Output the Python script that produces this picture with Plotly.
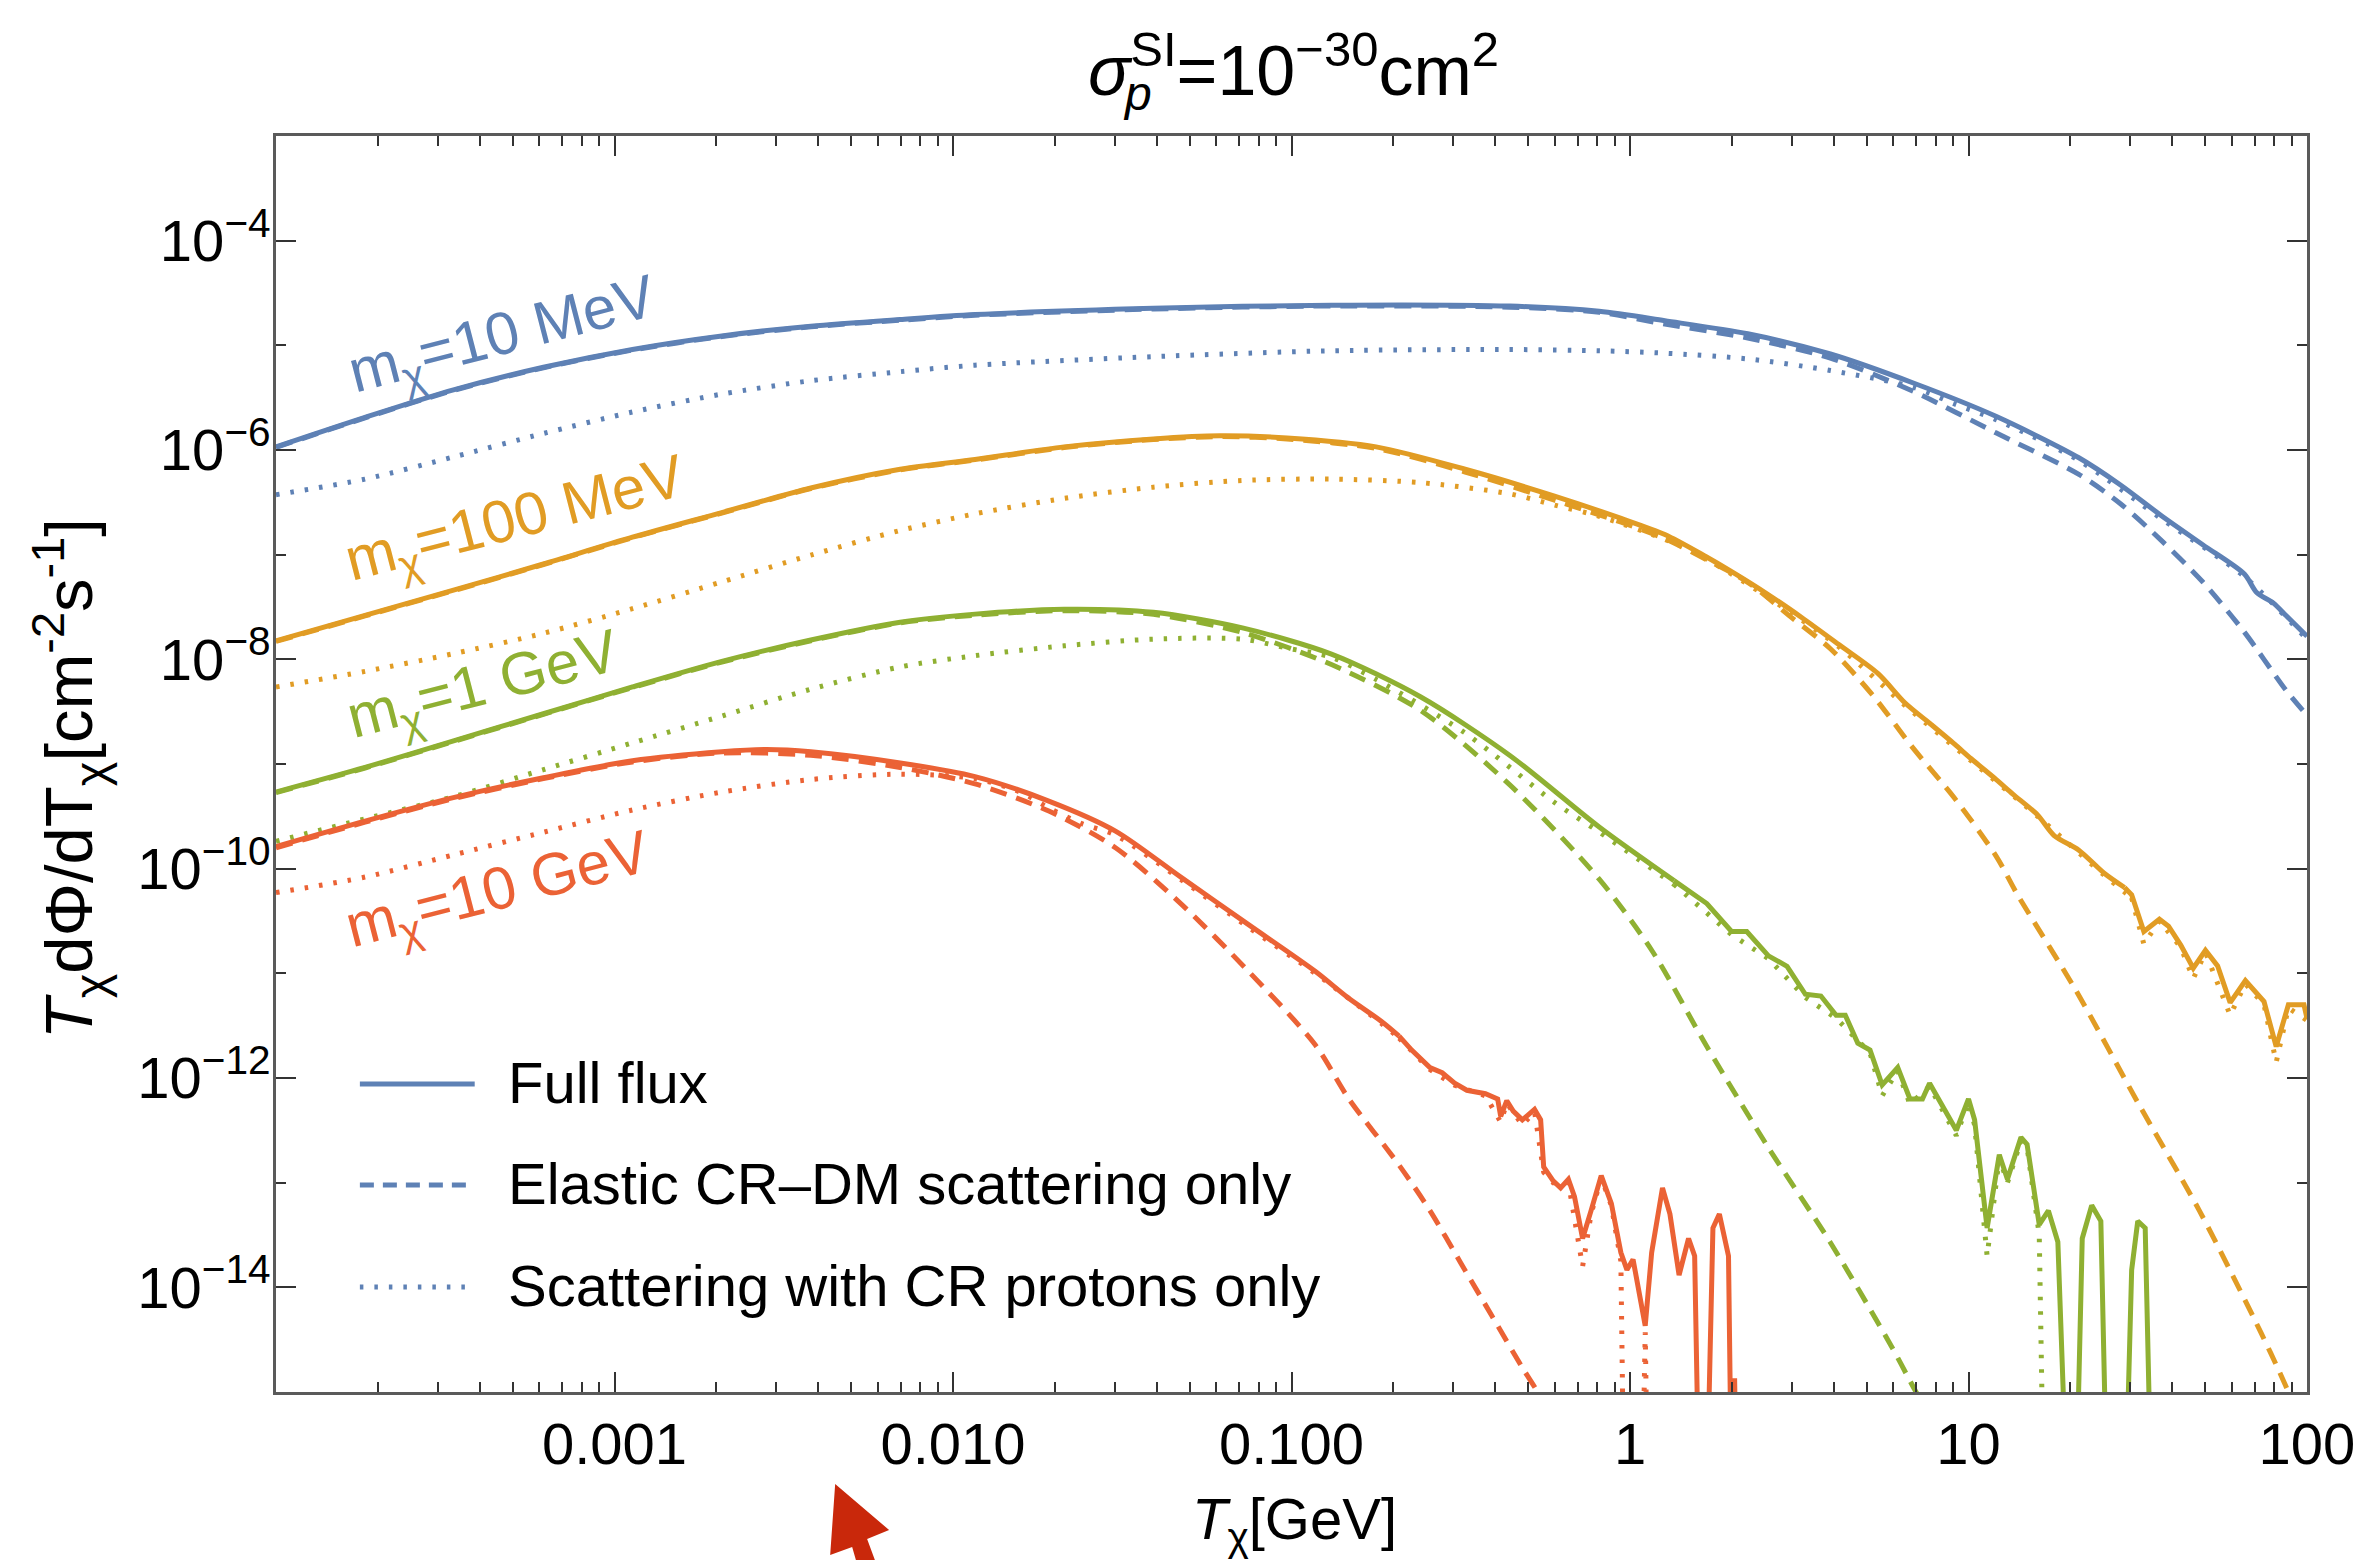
import numpy as np
import plotly.graph_objects as go

# ---------------- data (log10 of T [GeV] and log10 of flux) ----------------
blue_full_lx = [-4.0, -3.737, -3.473, -3.21, -2.947, -2.683, -2.42, -2.156, -1.935, -1.408, -0.882, -0.355,
                -0.091, 0.103, 0.348, 0.592, 0.837, 1.081, 1.326, 1.448, 1.571, 1.693, 1.815, 1.852, 1.901, 1.938, 2.0]
blue_full_ly = [-5.97, -5.688, -5.423, -5.21, -5.039, -4.91, -4.817, -4.753, -4.706, -4.646, -4.616, -4.625,
                -4.675, -4.765, -4.89, -5.083, -5.36, -5.678, -6.074, -6.332, -6.63, -6.907, -7.185, -7.364, -7.463, -7.582, -7.78]
blue_el_lx = [-4.0, -3.737, -3.473, -3.21, -2.947, -2.683, -2.42, -2.156, -1.935, -1.408, -0.882, -0.355,
              -0.091, 0.103, 0.348, 0.592, 0.837, 1.081, 1.326, 1.448, 1.571, 1.693, 1.815, 1.938, 2.0]
blue_el_ly = [-5.975, -5.693, -5.428, -5.215, -5.045, -4.916, -4.823, -4.76, -4.713, -4.653, -4.624, -4.635,
              -4.685, -4.797, -4.93, -5.122, -5.44, -5.836, -6.233, -6.511, -6.868, -7.264, -7.74, -8.296, -8.534]
blue_p_lx = [-4.0, -3.737, -3.473, -3.21, -2.947, -2.683, -2.42, -2.156, -1.935, -1.408, -0.882, -0.355,
             -0.091, 0.103, 0.348, 0.592, 0.837, 0.959, 1.081, 1.326, 1.571, 1.815, 2.0]
blue_p_ly = [-6.427, -6.278, -6.064, -5.842, -5.637, -5.466, -5.338, -5.252, -5.19, -5.108, -5.052, -5.04,
             -5.052, -5.075, -5.13, -5.241, -5.4, -5.56, -5.71, -6.1, -6.66, -7.21, -7.81]

orange_full_lx = [-4.0, -3.737, -3.473, -3.21, -2.947, -2.683, -2.42, -2.156, -1.935, -1.672, -1.408, -1.211,
                  -1.013, -0.75, -0.487, -0.223, -0.026, 0.103, 0.225, 0.299, 0.409, 0.507, 0.617, 0.733, 0.812,
                  0.886, 0.959, 1.008, 1.082, 1.131, 1.204, 1.253, 1.326, 1.4, 1.461, 1.482, 1.518, 1.564, 1.591,
                  1.627, 1.664, 1.7, 1.736, 1.773, 1.818, 1.873, 1.909, 1.945, 1.991, 2.0]
orange_full_ly = [-7.824, -7.58, -7.337, -7.089, -6.833, -6.598, -6.363, -6.184, -6.09, -5.97, -5.894, -5.864,
                  -5.885, -5.97, -6.184, -6.44, -6.654, -6.808, -7.02, -7.16, -7.383, -7.6, -7.859, -8.137, -8.415,
                  -8.613, -8.811, -8.95, -9.149, -9.287, -9.486, -9.684, -9.823, -10.041, -10.18, -10.25, -10.6, -10.483, -10.55,
                  -10.73, -10.95, -10.78, -10.93, -11.28, -11.07, -11.27, -11.7, -11.3, -11.3, -11.43]
orange_el_lx = [-4.0, -3.737, -3.473, -3.21, -2.947, -2.683, -2.42, -2.156, -1.935, -1.672, -1.408, -1.211,
                -1.013, -0.75, -0.487, -0.223, -0.026, 0.103, 0.225, 0.348, 0.47, 0.592, 0.715, 0.837, 0.959,
                1.082, 1.143, 1.318, 1.5, 1.682, 1.864, 1.936, 1.97]
orange_el_ly = [-7.829, -7.585, -7.342, -7.094, -6.838, -6.603, -6.368, -6.19, -6.096, -5.977, -5.9, -5.872,
                -5.895, -5.985, -6.21, -6.48, -6.69, -6.848, -7.046, -7.264, -7.582, -7.899, -8.335, -8.851, -9.327,
                -9.882, -10.239, -11.167, -12.233, -13.267, -14.433, -14.933, -15.2]
orange_p_lx = [-4.0, -3.737, -3.473, -3.21, -2.947, -2.683, -2.42, -2.156, -1.935, -1.672, -1.408, -1.145,
               -0.882, -0.618, -0.355, -0.223, -0.091, 0.13, 0.225, 0.409, 0.617, 0.812, 1.008, 1.204, 1.4,
               1.482, 1.518, 1.564, 1.627, 1.664, 1.7, 1.773, 1.818, 1.873, 1.909, 1.945, 2.0]
orange_p_ly = [-8.264, -8.115, -7.944, -7.751, -7.516, -7.26, -7.004, -6.769, -6.61, -6.462, -6.355, -6.291,
               -6.278, -6.312, -6.419, -6.526, -6.633, -6.889, -7.04, -7.41, -7.88, -8.44, -8.97, -9.5, -10.06,
               -10.28, -10.72, -10.5, -10.75, -11.05, -10.8, -11.4, -11.1, -11.3, -11.85, -11.33, -11.45]

green_full_lx = [-4.0, -3.737, -3.473, -3.21, -2.947, -2.683, -2.42, -2.156, -1.935, -1.672, -1.408, -1.145,
                 -0.882, -0.618, -0.355, -0.091, 0.13, 0.227, 0.3, 0.345, 0.409, 0.464, 0.518, 0.564, 0.609,
                 0.636, 0.673, 0.709, 0.745, 0.791, 0.827, 0.864, 0.885, 0.918, 0.964, 1.0, 1.018, 1.055, 1.091,
                 1.115, 1.155, 1.173, 1.209, 1.236, 1.264, 1.291, 1.318, 1.336, 1.364, 1.391, 1.409, 1.464, 1.482,
                 1.5, 1.522, 1.54]
green_full_ly = [-9.268, -9.033, -8.777, -8.52, -8.264, -8.02, -7.815, -7.645, -7.568, -7.521, -7.551, -7.7,
                 -7.95, -8.36, -8.918, -9.602, -10.114, -10.333, -10.6, -10.6, -10.833, -10.933, -11.2, -11.217, -11.4,
                 -11.4, -11.667, -11.733, -12.067, -11.9, -12.2, -12.2, -12.05, -12.233, -12.5, -12.2, -12.4, -13.433, -12.733,
                 -12.967, -12.567, -12.633, -13.4, -13.267, -13.567, -16.0, -16.0, -13.533, -13.217, -13.367, -16.0, -16.0, -13.833,
                 -13.367, -13.433, -16.0]
green_el_lx = [-4.0, -3.737, -3.473, -3.21, -2.947, -2.683, -2.42, -2.156, -1.935, -1.672, -1.408, -1.145,
               -0.882, -0.618, -0.355, -0.091, 0.066, 0.227, 0.409, 0.591, 0.773, 0.845, 0.9]
green_el_ly = [-9.273, -9.038, -8.782, -8.525, -8.27, -8.026, -7.822, -7.652, -7.578, -7.535, -7.57, -7.743,
               -8.05, -8.49, -9.2, -10.1, -10.789, -11.7, -12.667, -13.567, -14.567, -15.0, -15.3]
green_p_lx = [-4.0, -3.737, -3.473, -3.21, -2.947, -2.683, -2.42, -2.156, -1.935, -1.672, -1.408, -1.145,
              -1.013, -0.882, -0.75, -0.487, -0.223, -0.091, 0.13, 0.3, 0.409, 0.518, 0.609, 0.709, 0.745,
              0.791, 0.827, 0.885, 0.964, 1.0, 1.018, 1.055, 1.091, 1.115, 1.155, 1.173, 1.209, 1.222]
green_p_ly = [-9.738, -9.524, -9.31, -9.054, -8.798, -8.542, -8.285, -8.072, -7.965, -7.871, -7.807, -7.807,
              -7.893, -7.98, -8.192, -8.704, -9.367, -9.65, -10.15, -10.63, -10.86, -11.23, -11.43, -11.76, -12.17,
              -11.93, -12.25, -12.08, -12.55, -12.23, -12.45, -13.7, -12.76, -13.0, -12.6, -12.66, -13.5, -16.0]

red_full_lx = [-4.0, -3.737, -3.473, -3.21, -2.947, -2.683, -2.551, -2.42, -2.156, -1.935, -1.717, -1.52,
               -1.324, -1.127, -0.93, -0.832, -0.734, -0.682, -0.645, -0.591, -0.555, -0.518, -0.482, -0.427,
               -0.391, -0.382, -0.364, -0.345, -0.318, -0.282, -0.264, -0.255, -0.227, -0.205, -0.182, -0.164,
               -0.14, -0.115, -0.085, -0.055, -0.027, -0.009, 0.009, 0.045, 0.064, 0.096, 0.118, 0.145, 0.173,
               0.191, 0.204, 0.227, 0.245, 0.264, 0.291, 0.3, 0.309, 0.315]
red_full_ly = [-9.789, -9.546, -9.319, -9.131, -8.969, -8.883, -8.862, -8.883, -8.99, -9.12, -9.354, -9.641,
               -10.088, -10.535, -10.981, -11.236, -11.46, -11.6, -11.733, -11.9, -11.95, -12.05, -12.117, -12.15,
               -12.2, -12.367, -12.217, -12.317, -12.4, -12.3, -12.4, -12.85, -12.983, -13.05, -12.967, -13.133,
               -13.533, -13.267, -12.933, -13.2, -13.667, -13.833, -13.733, -14.367, -13.667, -13.05, -13.3, -13.883, -13.533,
               -13.7, -16.0, -16.0, -13.433, -13.3, -13.7, -16.0, -14.87, -16.0]
red_el_lx = [-4.0, -3.737, -3.473, -3.21, -2.947, -2.683, -2.42, -2.156, -1.935, -1.717, -1.52, -1.324,
             -1.127, -0.93, -0.832, -0.682, -0.591, -0.5, -0.409, -0.318, -0.273, -0.25]
red_el_ly = [-9.8, -9.556, -9.329, -9.14, -8.98, -8.895, -8.917, -9.033, -9.19, -9.45, -9.8, -10.343,
             -10.981, -11.683, -12.193, -12.833, -13.267, -13.767, -14.267, -14.767, -15.0, -15.15]
red_p_lx = [-4.0, -3.737, -3.473, -3.21, -2.947, -2.683, -2.42, -2.156, -1.935, -1.8, -1.717, -1.62, -1.52,
            -1.324, -1.127, -0.93, -0.734, -0.682, -0.591, -0.518, -0.427, -0.382, -0.364, -0.318, -0.282,
            -0.255, -0.227, -0.182, -0.14, -0.115, -0.085, -0.055, -0.027, -0.018, 0.036, 0.045, 0.052]
red_p_ly = [-10.229, -10.08, -9.866, -9.652, -9.439, -9.268, -9.148, -9.097, -9.14, -9.27, -9.42, -9.57, -9.68,
            -10.11, -10.56, -11.0, -11.48, -11.62, -11.92, -12.07, -12.17, -12.42, -12.24, -12.45, -12.32,
            -12.9, -13.0, -13.0, -13.8, -13.3, -12.95, -13.22, -13.75, -16.0, -16.0, -14.43, -16.0]

x_tick_vals = [1e-3, 1e-2, 1e-1, 1, 10, 100]
x_tick_text = ["0.001", "0.010", "0.100", "1", "10", "100"]
y_tick_exps = [-14, -12, -10, -8, -6, -4]
mass_labels = ["m<sub>χ</sub>=10 MeV", "m<sub>χ</sub>=100 MeV", "m<sub>χ</sub>=1 GeV", "m<sub>χ</sub>=10 GeV"]
legend_labels = ["Full flux", "Elastic CR\u2013DM scattering only", "Scattering with CR protons only"]

# ---------------- styling ----------------
COLORS = ["#5E81B5", "#E19C24", "#8FB032", "#EB6235"]
FONT = "Liberation Sans, Arial, Helvetica, sans-serif"
DASH = "17px,10px"
DOT = "3.5px,11px"
W, H = 2367, 1560
L, R, T, B = 276, 57, 136, 168
PW, PH = W - L - R, H - T - B


def px2p(x, y):
    return (x - L) / PW, (H - B - y) / PH


# (x, y, colour index, dash, log10 T beyond which the curve is drawn point-to-point)
series = [
    (blue_full_lx, blue_full_ly, 0, "solid", 9), (blue_el_lx, blue_el_ly, 0, DASH, 9),
    (blue_p_lx, blue_p_ly, 0, DOT, 9),
    (orange_full_lx, orange_full_ly, 1, "solid", 1.461), (orange_el_lx, orange_el_ly, 1, DASH, 9),
    (orange_p_lx, orange_p_ly, 1, DOT, 1.482),
    (green_full_lx, green_full_ly, 2, "solid", 0.13), (green_el_lx, green_el_ly, 2, DASH, 9),
    (green_p_lx, green_p_ly, 2, DOT, 0.13),
    (red_full_lx, red_full_ly, 3, "solid", -0.682), (red_el_lx, red_el_ly, 3, DASH, 9),
    (red_p_lx, red_p_ly, 3, DOT, -0.682),
]

fig = go.Figure()
for lx, ly, ci, dash, split in series:
    assert len(lx) == len(ly), (len(lx), len(ly))
    xs = 10 ** np.array(lx)
    ys = 10 ** np.array(ly)
    lxa = np.array(lx)
    smooth = lxa <= split
    n = int(smooth.sum())
    fig.add_trace(go.Scatter(
        x=xs[:n], y=ys[:n], mode="lines",
        line=dict(color=COLORS[ci], width=5, dash=dash, shape="spline", smoothing=0.8),
        showlegend=False, hoverinfo="skip"))
    if n < len(lx):
        fig.add_trace(go.Scatter(
            x=xs[n - 1:], y=ys[n - 1:], mode="lines",
            line=dict(color=COLORS[ci], width=5, dash=dash),
            showlegend=False, hoverinfo="skip"))

axis_common = dict(
    type="log", showgrid=False, zeroline=False, showline=True, linecolor="#5a5a5a", linewidth=2.5,
    mirror="ticks", ticks="inside", ticklen=20, tickwidth=1.8, tickcolor="#333333",
    tickfont=dict(family=FONT, size=58, color="black"),
)
fig.update_xaxes(
    range=[-4, 2], tickmode="array", tickvals=x_tick_vals, ticktext=x_tick_text,
    minor=dict(ticks="inside", ticklen=10, tickwidth=1.5, tickcolor="#333333", showgrid=False,
               tickmode="array", tickvals=[k * 10.0 ** e for e in range(-4, 2) for k in range(2, 10)]),
    **axis_common)
fig.update_yaxes(
    range=[-15, -3], tickmode="array", tickvals=[10.0 ** e for e in y_tick_exps],
    ticktext=[f"10<sup>\u2212{abs(e)}</sup>" for e in y_tick_exps],
    minor=dict(ticks="inside", ticklen=10, tickwidth=1.5, tickcolor="#333333", showgrid=False,
               tickmode="array", tickvals=[10.0 ** e for e in (-13, -11, -9, -7, -5)]),
    ticklabelstandoff=-9,
    **axis_common)

ann = []


def add_text(text, xpx, ypx, size, color="black", xanchor="center", yanchor="middle", angle=0):
    xx, yy = px2p(xpx, ypx)
    ann.append(dict(text=text, x=xx, y=yy, xref="paper", yref="paper", xanchor=xanchor, yanchor=yanchor,
                    textangle=angle, showarrow=False, font=dict(family=FONT, size=size, color=color)))


# title
add_text("<i>σ</i><sup>SI</sup>=10<sup>\u221230</sup>cm<sup>2</sup>", 1295, 66, 70)
add_text("<i>p</i>", 1122, 94, 48, xanchor="left")
# axis titles
add_text("<i>T</i><sub>χ</sub>[GeV]", 1296, 1523, 58)
add_text("<i>T</i><sub>χ</sub>dΦ/dT<sub>χ</sub>[cm<sup>-2</sup>s<sup>-1</sup>]", 69, 779, 67, angle=-90)
# curve labels
label_pos = [(503, 338), (516, 522), (484, 688), (499, 893)]
for txt, (lxp, lyp), col in zip(mass_labels, label_pos, COLORS):
    add_text(txt, lxp, lyp, 60, color=col, angle=-14.5)

shapes = []
# legend
rows = [1084, 1185, 1287]
for txt, rowy, dash in zip(legend_labels, rows, ["solid", "14px,9px", "3.5px,11px"]):
    x0, y0 = px2p(360, rowy)
    x1, _ = px2p(475, rowy)
    shapes.append(dict(type="line", xref="paper", yref="paper", x0=x0, x1=x1, y0=y0, y1=y0,
                       line=dict(color=COLORS[0], width=5, dash=dash)))
    add_text(txt, 506, rowy - 2, 58, xanchor="left")

# red pointer arrow at the bottom
arrow_px = [(836, 1484), (890, 1530), (868, 1539), (885, 1585), (864, 1585), (853, 1547), (831, 1555)]
pts = [px2p(a, b) for a, b in arrow_px]
path = "M " + " L ".join(f"{a:.5f},{b:.5f}" for a, b in pts) + " Z"
shapes.append(dict(type="path", xref="paper", yref="paper", path=path,
                   fillcolor="#C9280B", line=dict(color="#C9280B", width=0)))

fig.update_layout(
    width=W, height=H, margin=dict(l=L, r=R, t=T, b=B, pad=0),
    paper_bgcolor="white", plot_bgcolor="white",
    annotations=ann, shapes=shapes, showlegend=False,
    font=dict(family=FONT, color="black"),
)

fig.write_html("out.html", config={"displayModeBar": False},
               post_script="document.body.style.margin='0px';document.body.style.overflow='hidden';")
